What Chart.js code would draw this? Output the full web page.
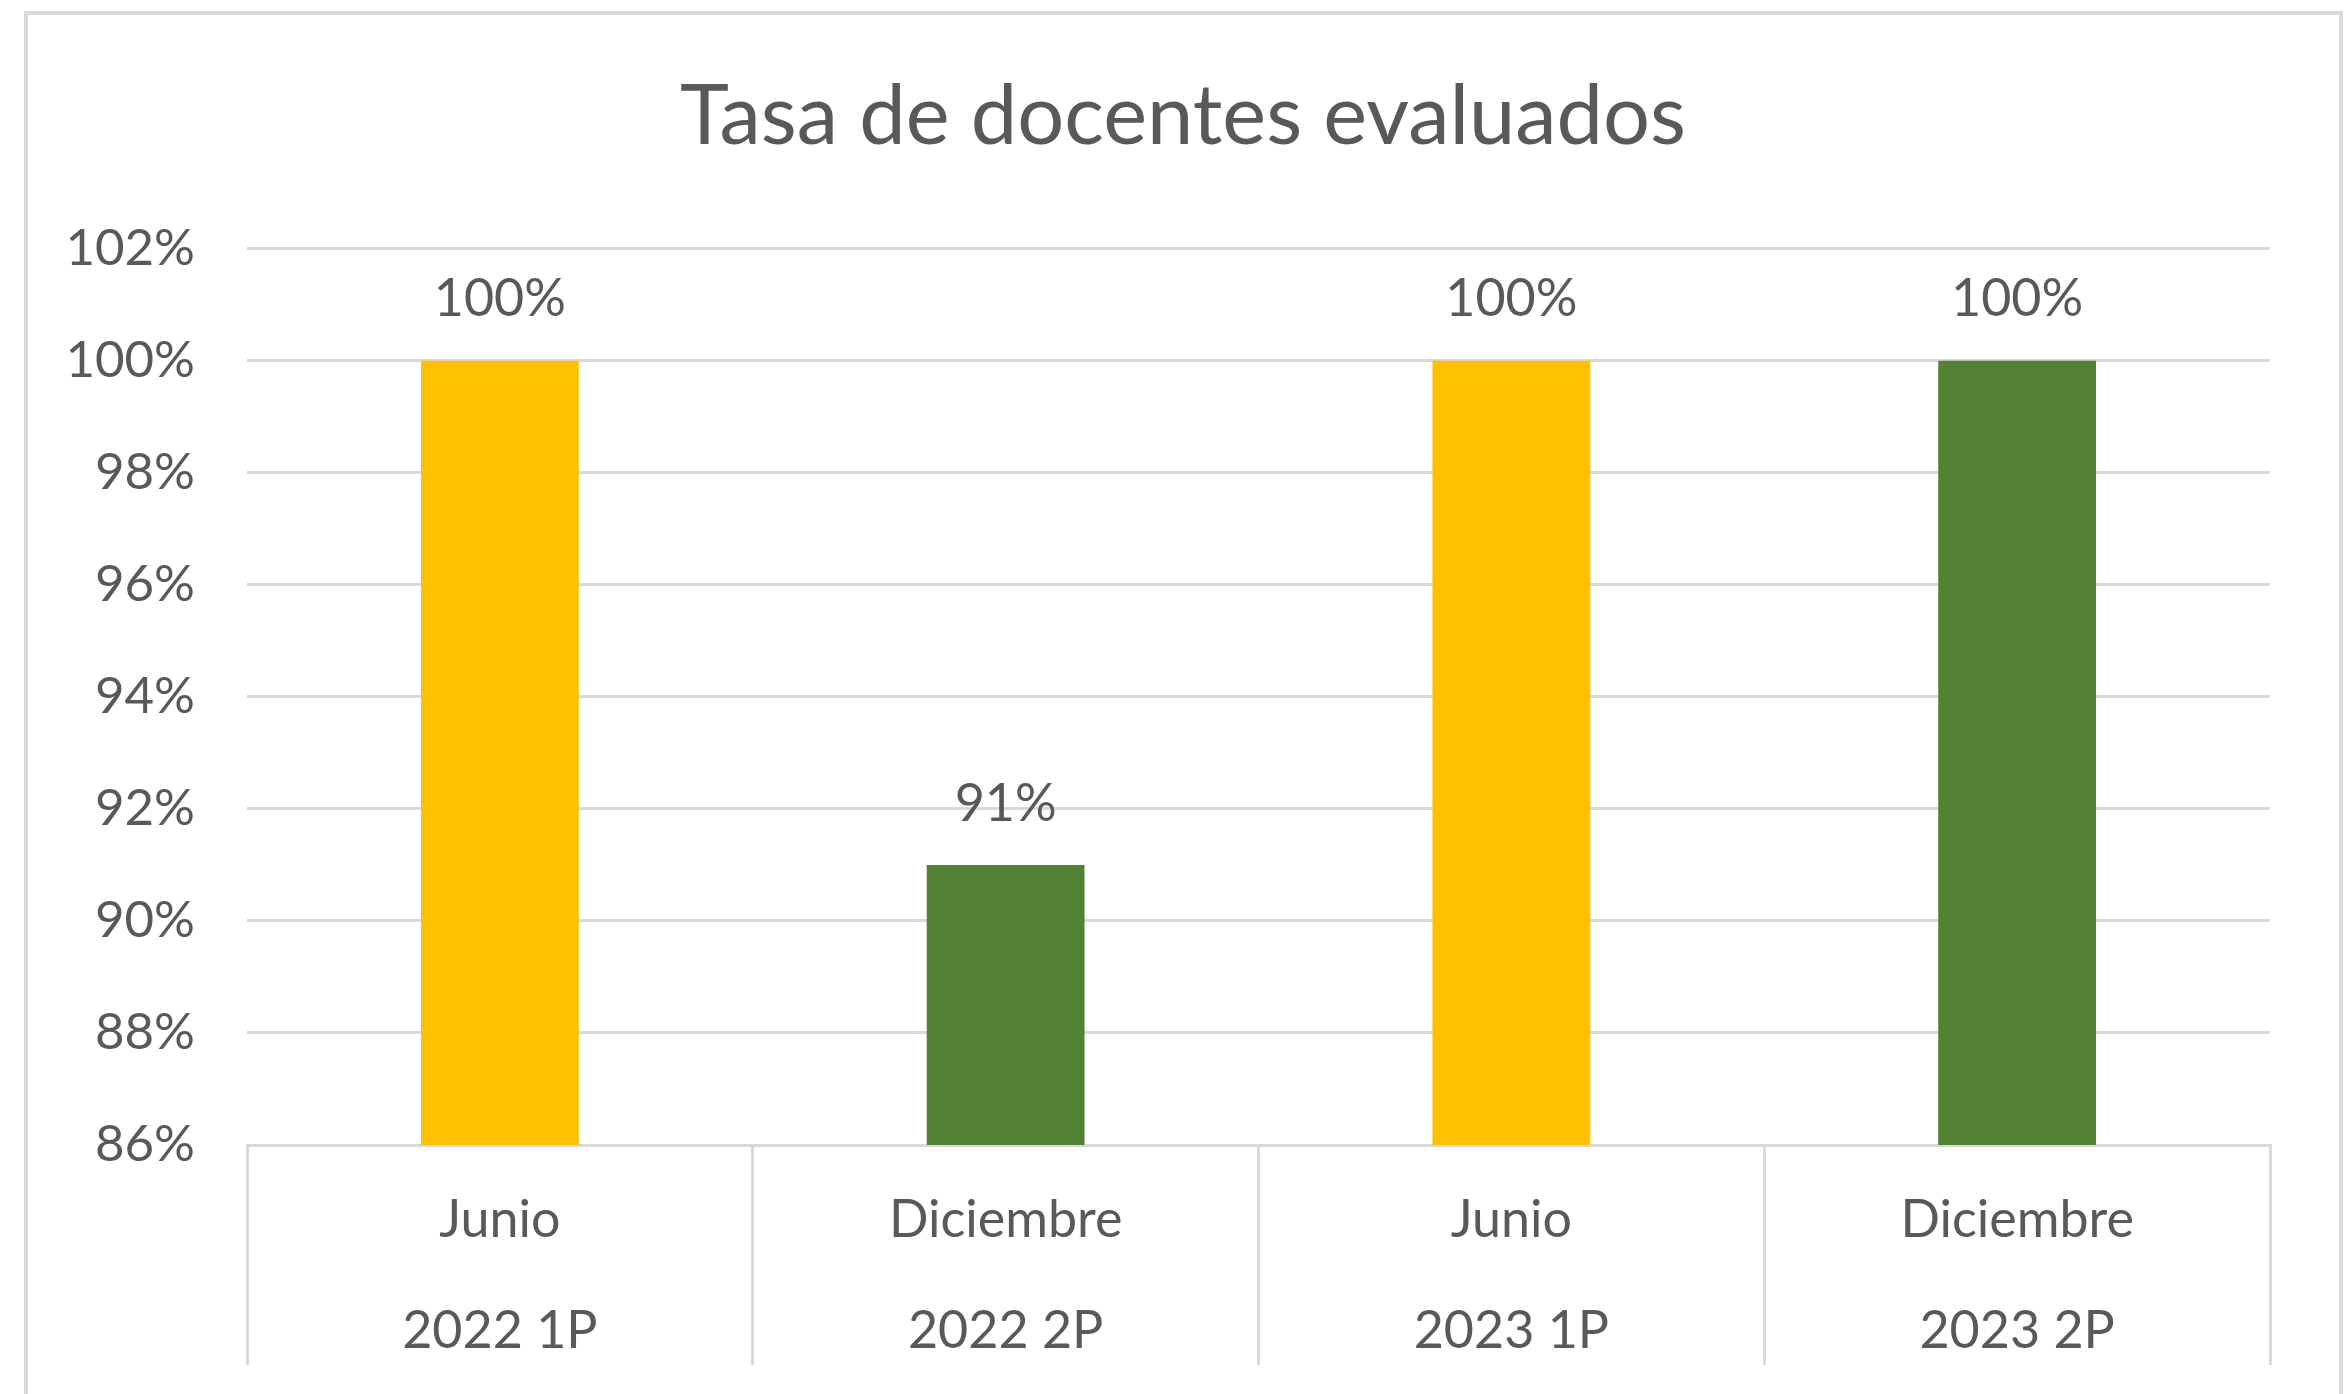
<!DOCTYPE html>
<html>
<head>
<meta charset="utf-8">
<script src="https://cdn.jsdelivr.net/npm/chart.js@4"></script>
<style>
    body { margin: 0; background: #ffffff; overflow: hidden; }
    #marco {
        position: absolute; left: 24px; top: 11px; width: 2319px; height: 1500px;
        border: 4px solid #d9d9d9; box-sizing: border-box; pointer-events: none;
    }
    canvas { position: absolute; left: 0; top: 0; }
</style>
</head>
<body>
<canvas id="chart" width="2352" height="1394"></canvas>
<div id="marco"></div>
<script>
const meses = ['Junio', 'Diciembre', 'Junio', 'Diciembre'];
const periodos = ['2022 1P', '2022 2P', '2023 1P', '2023 2P'];
const tasas = [100, 91, 100, 100];
const colores = ['#FFC000', '#548235', '#FFC000', '#548235'];

const gris = '#d9d9d9';
const texto = '#595959';
const fuente = 'Lato, "Open Sans", sans-serif';

// etiquetas encima de cada barra
const etiquetasBarras = {
    id: 'etiquetasBarras',
    afterDatasetsDraw(chart) {
        const ctx = chart.ctx;
        const meta = chart.getDatasetMeta(0);
        ctx.save();
        ctx.font = '52px ' + fuente;
        ctx.fillStyle = texto;
        ctx.textAlign = 'center';
        ctx.textBaseline = 'middle';
        meta.data.forEach(function (bar, i) {
            ctx.fillText(tasas[i] + '%', bar.x, bar.y - 61);
        });
        ctx.restore();
    }
};

document.addEventListener("DOMContentLoaded", function () {
    const ctx = document.getElementById('chart').getContext('2d');
    new Chart(ctx, {
        type: 'bar',
        data: {
            labels: meses.map((m, i) => [m, periodos[i]]),
            datasets: [{
                label: 'Tasa',
                data: tasas,
                backgroundColor: colores,
                categoryPercentage: 1,
                barPercentage: 0.312
            }]
        },
        options: {
            responsive: false,
            animation: false,
            layout: { padding: { left: 60, right: 46, top: 0, bottom: 0 } },
            plugins: {
                legend: { display: false },
                tooltip: { enabled: false },
                title: {
                    display: true,
                    text: 'Tasa de docentes evaluados',
                    color: texto,
                    font: { family: fuente, size: 83, weight: 'normal', lineHeight: 1.2 },
                    padding: { top: 67, bottom: 82 }
                }
            },
            scales: {
                y: {
                    min: 86,
                    max: 102,
                    ticks: {
                        stepSize: 2,
                        color: texto,
                        padding: 52,
                        font: { family: fuente, size: 51 },
                        callback: v => v + '%'
                    },
                    grid: { color: gris, lineWidth: 3, drawTicks: false },
                    border: { display: false },
                    afterFit(scale) { scale.width = 187; }
                },
                // eje vacío a la derecha, solo para dejar margen
                margen: {
                    position: 'right',
                    min: 86,
                    max: 102,
                    ticks: { display: false },
                    grid: { display: false },
                    border: { display: false },
                    afterFit(scale) { scale.width = 36; }
                },
                x: {
                    ticks: {
                        color: texto,
                        padding: -200,
                        font: { family: fuente, size: 52, lineHeight: 2.13 }
                    },
                    grid: {
                        offset: true,
                        drawOnChartArea: false,
                        drawTicks: true,
                        tickLength: 220,
                        color: gris,
                        lineWidth: 3
                    },
                    border: { display: true, color: gris, width: 3 },
                    afterFit(scale) { scale.height = 249; }
                }
            }
        },
        plugins: [etiquetasBarras]
    });
});
</script>
</body>
</html>
